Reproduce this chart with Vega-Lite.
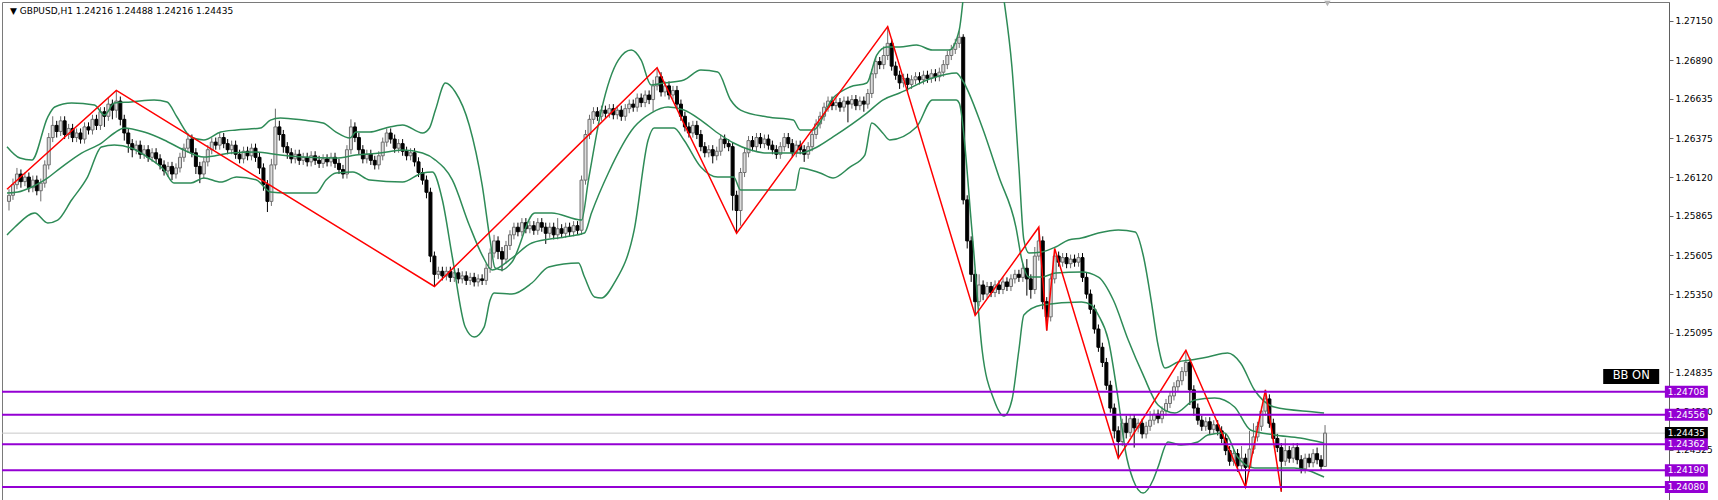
{
"$schema":"https://vega.github.io/schema/vega-lite/v6.json",
"width":1667,"height":498,
"autosize":{"type":"none"},
"padding":{"left":2,"top":2,"right":49,"bottom":0},
"background":"#ffffff",
"config":{"view":{"stroke":"#7a7a7a","strokeWidth":1},"axis":{"grid":false},"font":"DejaVu Sans"},
"datasets":{
"candles":[
{"i":0,"o":1.2596,"h":1.2604,"l":1.2590,"c":1.2600},
{"i":1,"o":1.2600,"h":1.2611,"l":1.2597,"c":1.2607},
{"i":2,"o":1.2607,"h":1.2618,"l":1.2604,"c":1.2614},
{"i":3,"o":1.2614,"h":1.2617,"l":1.2605,"c":1.2609},
{"i":4,"o":1.2609,"h":1.2615,"l":1.2606,"c":1.2612},
{"i":5,"o":1.2612,"h":1.2615,"l":1.2602,"c":1.2605},
{"i":6,"o":1.2605,"h":1.2613,"l":1.2602,"c":1.2610},
{"i":7,"o":1.2610,"h":1.2613,"l":1.2600,"c":1.2603},
{"i":8,"o":1.2603,"h":1.2611,"l":1.2596,"c":1.2608},
{"i":9,"o":1.2608,"h":1.2623,"l":1.2605,"c":1.2620},
{"i":10,"o":1.2620,"h":1.2641,"l":1.2617,"c":1.2638},
{"i":11,"o":1.2638,"h":1.2652,"l":1.2635,"c":1.2646},
{"i":12,"o":1.2646,"h":1.2649,"l":1.2638,"c":1.2642},
{"i":13,"o":1.2642,"h":1.2652,"l":1.2639,"c":1.2649},
{"i":14,"o":1.2649,"h":1.2652,"l":1.2637,"c":1.2640},
{"i":15,"o":1.2640,"h":1.2647,"l":1.2637,"c":1.2644},
{"i":16,"o":1.2644,"h":1.2647,"l":1.2635,"c":1.2638},
{"i":17,"o":1.2638,"h":1.2644,"l":1.2635,"c":1.2641},
{"i":18,"o":1.2641,"h":1.2644,"l":1.2634,"c":1.2637},
{"i":19,"o":1.2637,"h":1.2648,"l":1.2634,"c":1.2645},
{"i":20,"o":1.2645,"h":1.2648,"l":1.2640,"c":1.2643},
{"i":21,"o":1.2643,"h":1.2653,"l":1.2640,"c":1.2650},
{"i":22,"o":1.2650,"h":1.2653,"l":1.2643,"c":1.2646},
{"i":23,"o":1.2646,"h":1.2658,"l":1.2643,"c":1.2655},
{"i":24,"o":1.2655,"h":1.2658,"l":1.2645,"c":1.2652},
{"i":25,"o":1.2652,"h":1.2664,"l":1.2649,"c":1.2660},
{"i":26,"o":1.2660,"h":1.2663,"l":1.2650,"c":1.2656},
{"i":27,"o":1.2656,"h":1.2669,"l":1.2651,"c":1.2662},
{"i":28,"o":1.2662,"h":1.2665,"l":1.2646,"c":1.2650},
{"i":29,"o":1.2650,"h":1.2653,"l":1.2636,"c":1.2641},
{"i":30,"o":1.2641,"h":1.2644,"l":1.2628,"c":1.2634},
{"i":31,"o":1.2634,"h":1.2637,"l":1.2625,"c":1.2630},
{"i":32,"o":1.2630,"h":1.2636,"l":1.2627,"c":1.2633},
{"i":33,"o":1.2633,"h":1.2636,"l":1.2624,"c":1.2627},
{"i":34,"o":1.2627,"h":1.2633,"l":1.2624,"c":1.2630},
{"i":35,"o":1.2630,"h":1.2633,"l":1.2622,"c":1.2625},
{"i":36,"o":1.2625,"h":1.2631,"l":1.2622,"c":1.2628},
{"i":37,"o":1.2628,"h":1.2631,"l":1.2621,"c":1.2624},
{"i":38,"o":1.2624,"h":1.2627,"l":1.2617,"c":1.2620},
{"i":39,"o":1.2620,"h":1.2623,"l":1.2613,"c":1.2616},
{"i":40,"o":1.2616,"h":1.2622,"l":1.2612,"c":1.2619},
{"i":41,"o":1.2619,"h":1.2622,"l":1.2610,"c":1.2614},
{"i":42,"o":1.2614,"h":1.2621,"l":1.2611,"c":1.2618},
{"i":43,"o":1.2618,"h":1.2628,"l":1.2615,"c":1.2625},
{"i":44,"o":1.2625,"h":1.2634,"l":1.2622,"c":1.2631},
{"i":45,"o":1.2631,"h":1.2641,"l":1.2628,"c":1.2637},
{"i":46,"o":1.2637,"h":1.2640,"l":1.2625,"c":1.2628},
{"i":47,"o":1.2628,"h":1.2631,"l":1.2614,"c":1.2619},
{"i":48,"o":1.2619,"h":1.2622,"l":1.2608,"c":1.2614},
{"i":49,"o":1.2614,"h":1.2625,"l":1.2611,"c":1.2622},
{"i":50,"o":1.2622,"h":1.2633,"l":1.2619,"c":1.2630},
{"i":51,"o":1.2630,"h":1.2638,"l":1.2627,"c":1.2635},
{"i":52,"o":1.2635,"h":1.2638,"l":1.2630,"c":1.2633},
{"i":53,"o":1.2633,"h":1.2641,"l":1.2630,"c":1.2638},
{"i":54,"o":1.2638,"h":1.2641,"l":1.2631,"c":1.2634},
{"i":55,"o":1.2634,"h":1.2637,"l":1.2627,"c":1.2630},
{"i":56,"o":1.2630,"h":1.2636,"l":1.2627,"c":1.2633},
{"i":57,"o":1.2633,"h":1.2636,"l":1.2624,"c":1.2627},
{"i":58,"o":1.2627,"h":1.2630,"l":1.2621,"c":1.2624},
{"i":59,"o":1.2624,"h":1.2632,"l":1.2621,"c":1.2629},
{"i":60,"o":1.2629,"h":1.2632,"l":1.2623,"c":1.2626},
{"i":61,"o":1.2626,"h":1.2634,"l":1.2623,"c":1.2631},
{"i":62,"o":1.2631,"h":1.2634,"l":1.2622,"c":1.2625},
{"i":63,"o":1.2625,"h":1.2628,"l":1.2614,"c":1.2618},
{"i":64,"o":1.2618,"h":1.2621,"l":1.2603,"c":1.2607},
{"i":65,"o":1.2607,"h":1.2610,"l":1.2589,"c":1.2596},
{"i":66,"o":1.2596,"h":1.2624,"l":1.2593,"c":1.2620},
{"i":67,"o":1.2620,"h":1.2657,"l":1.2617,"c":1.2645},
{"i":68,"o":1.2645,"h":1.2649,"l":1.2636,"c":1.2640},
{"i":69,"o":1.2640,"h":1.2643,"l":1.2628,"c":1.2632},
{"i":70,"o":1.2632,"h":1.2635,"l":1.2624,"c":1.2628},
{"i":71,"o":1.2628,"h":1.2631,"l":1.2621,"c":1.2624},
{"i":72,"o":1.2624,"h":1.2630,"l":1.2621,"c":1.2627},
{"i":73,"o":1.2627,"h":1.2630,"l":1.2620,"c":1.2623},
{"i":74,"o":1.2623,"h":1.2628,"l":1.2620,"c":1.2625},
{"i":75,"o":1.2625,"h":1.2628,"l":1.2619,"c":1.2622},
{"i":76,"o":1.2622,"h":1.2629,"l":1.2619,"c":1.2626},
{"i":77,"o":1.2626,"h":1.2629,"l":1.2620,"c":1.2623},
{"i":78,"o":1.2623,"h":1.2626,"l":1.2618,"c":1.2621},
{"i":79,"o":1.2621,"h":1.2627,"l":1.2618,"c":1.2624},
{"i":80,"o":1.2624,"h":1.2627,"l":1.2619,"c":1.2622},
{"i":81,"o":1.2622,"h":1.2628,"l":1.2619,"c":1.2625},
{"i":82,"o":1.2625,"h":1.2628,"l":1.2618,"c":1.2621},
{"i":83,"o":1.2621,"h":1.2624,"l":1.2614,"c":1.2617},
{"i":84,"o":1.2617,"h":1.2620,"l":1.2611,"c":1.2614},
{"i":85,"o":1.2614,"h":1.2633,"l":1.2611,"c":1.2630},
{"i":86,"o":1.2630,"h":1.2650,"l":1.2627,"c":1.2645},
{"i":87,"o":1.2645,"h":1.2648,"l":1.2635,"c":1.2638},
{"i":88,"o":1.2638,"h":1.2641,"l":1.2627,"c":1.2630},
{"i":89,"o":1.2630,"h":1.2633,"l":1.2621,"c":1.2624},
{"i":90,"o":1.2624,"h":1.2630,"l":1.2621,"c":1.2627},
{"i":91,"o":1.2627,"h":1.2630,"l":1.2620,"c":1.2623},
{"i":92,"o":1.2623,"h":1.2626,"l":1.2617,"c":1.2620},
{"i":93,"o":1.2620,"h":1.2629,"l":1.2617,"c":1.2626},
{"i":94,"o":1.2626,"h":1.2638,"l":1.2623,"c":1.2635},
{"i":95,"o":1.2635,"h":1.2644,"l":1.2632,"c":1.2641},
{"i":96,"o":1.2641,"h":1.2644,"l":1.2634,"c":1.2637},
{"i":97,"o":1.2637,"h":1.2640,"l":1.2628,"c":1.2631},
{"i":98,"o":1.2631,"h":1.2637,"l":1.2628,"c":1.2634},
{"i":99,"o":1.2634,"h":1.2637,"l":1.2626,"c":1.2629},
{"i":100,"o":1.2629,"h":1.2632,"l":1.2623,"c":1.2626},
{"i":101,"o":1.2626,"h":1.2631,"l":1.2623,"c":1.2628},
{"i":102,"o":1.2628,"h":1.2631,"l":1.2619,"c":1.2622},
{"i":103,"o":1.2622,"h":1.2625,"l":1.2612,"c":1.2615},
{"i":104,"o":1.2615,"h":1.2618,"l":1.2607,"c":1.2610},
{"i":105,"o":1.2610,"h":1.2613,"l":1.2598,"c":1.2602},
{"i":106,"o":1.2602,"h":1.2605,"l":1.2556,"c":1.2560},
{"i":107,"o":1.2560,"h":1.2563,"l":1.2540,"c":1.2548},
{"i":108,"o":1.2548,"h":1.2553,"l":1.2545,"c":1.2550},
{"i":109,"o":1.2550,"h":1.2553,"l":1.2544,"c":1.2547},
{"i":110,"o":1.2547,"h":1.2553,"l":1.2544,"c":1.2550},
{"i":111,"o":1.2550,"h":1.2553,"l":1.2543,"c":1.2546},
{"i":112,"o":1.2546,"h":1.2552,"l":1.2543,"c":1.2549},
{"i":113,"o":1.2549,"h":1.2552,"l":1.2542,"c":1.2545},
{"i":114,"o":1.2545,"h":1.2550,"l":1.2542,"c":1.2547},
{"i":115,"o":1.2547,"h":1.2550,"l":1.2541,"c":1.2544},
{"i":116,"o":1.2544,"h":1.2549,"l":1.2541,"c":1.2546},
{"i":117,"o":1.2546,"h":1.2549,"l":1.2540,"c":1.2543},
{"i":118,"o":1.2543,"h":1.2548,"l":1.2540,"c":1.2545},
{"i":119,"o":1.2545,"h":1.2548,"l":1.2541,"c":1.2544},
{"i":120,"o":1.2544,"h":1.2555,"l":1.2541,"c":1.2552},
{"i":121,"o":1.2552,"h":1.2565,"l":1.2549,"c":1.2562},
{"i":122,"o":1.2562,"h":1.2574,"l":1.2559,"c":1.2570},
{"i":123,"o":1.2570,"h":1.2573,"l":1.2558,"c":1.2563},
{"i":124,"o":1.2563,"h":1.2566,"l":1.2550,"c":1.2558},
{"i":125,"o":1.2558,"h":1.2570,"l":1.2555,"c":1.2567},
{"i":126,"o":1.2567,"h":1.2577,"l":1.2564,"c":1.2574},
{"i":127,"o":1.2574,"h":1.2582,"l":1.2571,"c":1.2579},
{"i":128,"o":1.2579,"h":1.2582,"l":1.2573,"c":1.2576},
{"i":129,"o":1.2576,"h":1.2585,"l":1.2573,"c":1.2582},
{"i":130,"o":1.2582,"h":1.2585,"l":1.2575,"c":1.2578},
{"i":131,"o":1.2578,"h":1.2583,"l":1.2575,"c":1.2580},
{"i":132,"o":1.2580,"h":1.2583,"l":1.2574,"c":1.2577},
{"i":133,"o":1.2577,"h":1.2585,"l":1.2574,"c":1.2582},
{"i":134,"o":1.2582,"h":1.2585,"l":1.2576,"c":1.2579},
{"i":135,"o":1.2579,"h":1.2582,"l":1.2568,"c":1.2575},
{"i":136,"o":1.2575,"h":1.2582,"l":1.2572,"c":1.2579},
{"i":137,"o":1.2579,"h":1.2582,"l":1.2571,"c":1.2574},
{"i":138,"o":1.2574,"h":1.2585,"l":1.2571,"c":1.2578},
{"i":139,"o":1.2578,"h":1.2581,"l":1.2572,"c":1.2575},
{"i":140,"o":1.2575,"h":1.2582,"l":1.2572,"c":1.2579},
{"i":141,"o":1.2579,"h":1.2582,"l":1.2573,"c":1.2576},
{"i":142,"o":1.2576,"h":1.2583,"l":1.2573,"c":1.2580},
{"i":143,"o":1.2580,"h":1.2583,"l":1.2574,"c":1.2577},
{"i":144,"o":1.2577,"h":1.2613,"l":1.2574,"c":1.2610},
{"i":145,"o":1.2610,"h":1.2643,"l":1.2607,"c":1.2640},
{"i":146,"o":1.2640,"h":1.2653,"l":1.2637,"c":1.2650},
{"i":147,"o":1.2650,"h":1.2658,"l":1.2647,"c":1.2655},
{"i":148,"o":1.2655,"h":1.2658,"l":1.2649,"c":1.2652},
{"i":149,"o":1.2652,"h":1.2659,"l":1.2649,"c":1.2656},
{"i":150,"o":1.2656,"h":1.2659,"l":1.2651,"c":1.2654},
{"i":151,"o":1.2654,"h":1.2660,"l":1.2651,"c":1.2657},
{"i":152,"o":1.2657,"h":1.2660,"l":1.2650,"c":1.2653},
{"i":153,"o":1.2653,"h":1.2659,"l":1.2650,"c":1.2656},
{"i":154,"o":1.2656,"h":1.2659,"l":1.2649,"c":1.2652},
{"i":155,"o":1.2652,"h":1.2660,"l":1.2649,"c":1.2657},
{"i":156,"o":1.2657,"h":1.2663,"l":1.2654,"c":1.2660},
{"i":157,"o":1.2660,"h":1.2663,"l":1.2655,"c":1.2658},
{"i":158,"o":1.2658,"h":1.2667,"l":1.2655,"c":1.2664},
{"i":159,"o":1.2664,"h":1.2667,"l":1.2658,"c":1.2661},
{"i":160,"o":1.2661,"h":1.2669,"l":1.2658,"c":1.2666},
{"i":161,"o":1.2666,"h":1.2669,"l":1.2660,"c":1.2663},
{"i":162,"o":1.2663,"h":1.2676,"l":1.2655,"c":1.2672},
{"i":163,"o":1.2672,"h":1.2684,"l":1.2669,"c":1.2678},
{"i":164,"o":1.2678,"h":1.2681,"l":1.2665,"c":1.2668},
{"i":165,"o":1.2668,"h":1.2675,"l":1.2665,"c":1.2672},
{"i":166,"o":1.2672,"h":1.2675,"l":1.2663,"c":1.2666},
{"i":167,"o":1.2666,"h":1.2672,"l":1.2663,"c":1.2669},
{"i":168,"o":1.2669,"h":1.2672,"l":1.2657,"c":1.2660},
{"i":169,"o":1.2660,"h":1.2663,"l":1.2649,"c":1.2652},
{"i":170,"o":1.2652,"h":1.2655,"l":1.2642,"c":1.2645},
{"i":171,"o":1.2645,"h":1.2648,"l":1.2638,"c":1.2641},
{"i":172,"o":1.2641,"h":1.2649,"l":1.2638,"c":1.2646},
{"i":173,"o":1.2646,"h":1.2649,"l":1.2637,"c":1.2640},
{"i":174,"o":1.2640,"h":1.2643,"l":1.2629,"c":1.2632},
{"i":175,"o":1.2632,"h":1.2635,"l":1.2625,"c":1.2628},
{"i":176,"o":1.2628,"h":1.2633,"l":1.2625,"c":1.2630},
{"i":177,"o":1.2630,"h":1.2633,"l":1.2621,"c":1.2626},
{"i":178,"o":1.2626,"h":1.2632,"l":1.2623,"c":1.2629},
{"i":179,"o":1.2629,"h":1.2640,"l":1.2626,"c":1.2637},
{"i":180,"o":1.2637,"h":1.2640,"l":1.2631,"c":1.2634},
{"i":181,"o":1.2634,"h":1.2637,"l":1.2629,"c":1.2632},
{"i":182,"o":1.2632,"h":1.2635,"l":1.2590,"c":1.2600},
{"i":183,"o":1.2600,"h":1.2603,"l":1.2575,"c":1.2590},
{"i":184,"o":1.2590,"h":1.2618,"l":1.2580,"c":1.2615},
{"i":185,"o":1.2615,"h":1.2631,"l":1.2612,"c":1.2628},
{"i":186,"o":1.2628,"h":1.2639,"l":1.2625,"c":1.2636},
{"i":187,"o":1.2636,"h":1.2639,"l":1.2629,"c":1.2632},
{"i":188,"o":1.2632,"h":1.2641,"l":1.2629,"c":1.2638},
{"i":189,"o":1.2638,"h":1.2641,"l":1.2631,"c":1.2634},
{"i":190,"o":1.2634,"h":1.2640,"l":1.2631,"c":1.2637},
{"i":191,"o":1.2637,"h":1.2640,"l":1.2630,"c":1.2633},
{"i":192,"o":1.2633,"h":1.2636,"l":1.2627,"c":1.2630},
{"i":193,"o":1.2630,"h":1.2633,"l":1.2624,"c":1.2627},
{"i":194,"o":1.2627,"h":1.2635,"l":1.2624,"c":1.2632},
{"i":195,"o":1.2632,"h":1.2641,"l":1.2629,"c":1.2638},
{"i":196,"o":1.2638,"h":1.2641,"l":1.2631,"c":1.2634},
{"i":197,"o":1.2634,"h":1.2637,"l":1.2625,"c":1.2628},
{"i":198,"o":1.2628,"h":1.2636,"l":1.2625,"c":1.2633},
{"i":199,"o":1.2633,"h":1.2636,"l":1.2627,"c":1.2630},
{"i":200,"o":1.2630,"h":1.2633,"l":1.2622,"c":1.2627},
{"i":201,"o":1.2627,"h":1.2635,"l":1.2624,"c":1.2632},
{"i":202,"o":1.2632,"h":1.2643,"l":1.2629,"c":1.2640},
{"i":203,"o":1.2640,"h":1.2650,"l":1.2637,"c":1.2647},
{"i":204,"o":1.2647,"h":1.2655,"l":1.2644,"c":1.2652},
{"i":205,"o":1.2652,"h":1.2661,"l":1.2649,"c":1.2658},
{"i":206,"o":1.2658,"h":1.2665,"l":1.2655,"c":1.2662},
{"i":207,"o":1.2662,"h":1.2665,"l":1.2656,"c":1.2659},
{"i":208,"o":1.2659,"h":1.2664,"l":1.2656,"c":1.2661},
{"i":209,"o":1.2661,"h":1.2664,"l":1.2655,"c":1.2658},
{"i":210,"o":1.2658,"h":1.2665,"l":1.2655,"c":1.2662},
{"i":211,"o":1.2662,"h":1.2665,"l":1.2648,"c":1.2660},
{"i":212,"o":1.2660,"h":1.2666,"l":1.2657,"c":1.2663},
{"i":213,"o":1.2663,"h":1.2666,"l":1.2656,"c":1.2659},
{"i":214,"o":1.2659,"h":1.2665,"l":1.2656,"c":1.2662},
{"i":215,"o":1.2662,"h":1.2665,"l":1.2655,"c":1.2660},
{"i":216,"o":1.2660,"h":1.2670,"l":1.2657,"c":1.2667},
{"i":217,"o":1.2667,"h":1.2683,"l":1.2664,"c":1.2680},
{"i":218,"o":1.2680,"h":1.2691,"l":1.2677,"c":1.2688},
{"i":219,"o":1.2688,"h":1.2691,"l":1.2683,"c":1.2686},
{"i":220,"o":1.2686,"h":1.2698,"l":1.2683,"c":1.2692},
{"i":221,"o":1.2692,"h":1.2711,"l":1.2689,"c":1.2700},
{"i":222,"o":1.2700,"h":1.2703,"l":1.2682,"c":1.2685},
{"i":223,"o":1.2685,"h":1.2688,"l":1.2676,"c":1.2679},
{"i":224,"o":1.2679,"h":1.2682,"l":1.2670,"c":1.2674},
{"i":225,"o":1.2674,"h":1.2680,"l":1.2671,"c":1.2677},
{"i":226,"o":1.2677,"h":1.2680,"l":1.2668,"c":1.2673},
{"i":227,"o":1.2673,"h":1.2679,"l":1.2670,"c":1.2676},
{"i":228,"o":1.2676,"h":1.2681,"l":1.2673,"c":1.2678},
{"i":229,"o":1.2678,"h":1.2681,"l":1.2673,"c":1.2676},
{"i":230,"o":1.2676,"h":1.2682,"l":1.2673,"c":1.2679},
{"i":231,"o":1.2679,"h":1.2682,"l":1.2674,"c":1.2677},
{"i":232,"o":1.2677,"h":1.2683,"l":1.2674,"c":1.2680},
{"i":233,"o":1.2680,"h":1.2683,"l":1.2675,"c":1.2678},
{"i":234,"o":1.2678,"h":1.2684,"l":1.2675,"c":1.2681},
{"i":235,"o":1.2681,"h":1.2689,"l":1.2678,"c":1.2686},
{"i":236,"o":1.2686,"h":1.2695,"l":1.2683,"c":1.2692},
{"i":237,"o":1.2692,"h":1.2699,"l":1.2689,"c":1.2696},
{"i":238,"o":1.2696,"h":1.2703,"l":1.2693,"c":1.2700},
{"i":239,"o":1.2700,"h":1.2708,"l":1.2697,"c":1.2704},
{"i":240,"o":1.2704,"h":1.2706,"l":1.2594,"c":1.2597},
{"i":241,"o":1.2597,"h":1.2600,"l":1.2565,"c":1.2570},
{"i":242,"o":1.2570,"h":1.2573,"l":1.2543,"c":1.2548},
{"i":243,"o":1.2548,"h":1.2551,"l":1.2521,"c":1.2530},
{"i":244,"o":1.2530,"h":1.2548,"l":1.2527,"c":1.2541},
{"i":245,"o":1.2541,"h":1.2544,"l":1.2531,"c":1.2535},
{"i":246,"o":1.2535,"h":1.2543,"l":1.2532,"c":1.2540},
{"i":247,"o":1.2540,"h":1.2543,"l":1.2533,"c":1.2536},
{"i":248,"o":1.2536,"h":1.2544,"l":1.2533,"c":1.2541},
{"i":249,"o":1.2541,"h":1.2544,"l":1.2535,"c":1.2538},
{"i":250,"o":1.2538,"h":1.2546,"l":1.2535,"c":1.2543},
{"i":251,"o":1.2543,"h":1.2546,"l":1.2537,"c":1.2540},
{"i":252,"o":1.2540,"h":1.2548,"l":1.2537,"c":1.2545},
{"i":253,"o":1.2545,"h":1.2551,"l":1.2542,"c":1.2548},
{"i":254,"o":1.2548,"h":1.2551,"l":1.2543,"c":1.2546},
{"i":255,"o":1.2546,"h":1.2555,"l":1.2543,"c":1.2552},
{"i":256,"o":1.2552,"h":1.2558,"l":1.2534,"c":1.2545},
{"i":257,"o":1.2545,"h":1.2548,"l":1.2532,"c":1.2538},
{"i":258,"o":1.2538,"h":1.2566,"l":1.2535,"c":1.2560},
{"i":259,"o":1.2560,"h":1.2579,"l":1.2557,"c":1.2570},
{"i":260,"o":1.2570,"h":1.2573,"l":1.2525,"c":1.2530},
{"i":261,"o":1.2530,"h":1.2533,"l":1.2511,"c":1.2520},
{"i":262,"o":1.2520,"h":1.2548,"l":1.2517,"c":1.2545},
{"i":263,"o":1.2545,"h":1.2565,"l":1.2542,"c":1.2560},
{"i":264,"o":1.2560,"h":1.2563,"l":1.2553,"c":1.2556},
{"i":265,"o":1.2556,"h":1.2562,"l":1.2553,"c":1.2559},
{"i":266,"o":1.2559,"h":1.2562,"l":1.2552,"c":1.2555},
{"i":267,"o":1.2555,"h":1.2561,"l":1.2552,"c":1.2558},
{"i":268,"o":1.2558,"h":1.2561,"l":1.2553,"c":1.2556},
{"i":269,"o":1.2556,"h":1.2562,"l":1.2553,"c":1.2559},
{"i":270,"o":1.2559,"h":1.2562,"l":1.2543,"c":1.2546},
{"i":271,"o":1.2546,"h":1.2549,"l":1.2532,"c":1.2535},
{"i":272,"o":1.2535,"h":1.2538,"l":1.2522,"c":1.2525},
{"i":273,"o":1.2525,"h":1.2528,"l":1.2509,"c":1.2512},
{"i":274,"o":1.2512,"h":1.2515,"l":1.2497,"c":1.2500},
{"i":275,"o":1.2500,"h":1.2503,"l":1.2487,"c":1.2490},
{"i":276,"o":1.2490,"h":1.2493,"l":1.2472,"c":1.2475},
{"i":277,"o":1.2475,"h":1.2478,"l":1.2457,"c":1.2460},
{"i":278,"o":1.2460,"h":1.2463,"l":1.2440,"c":1.2445},
{"i":279,"o":1.2445,"h":1.2448,"l":1.2427,"c":1.2438},
{"i":280,"o":1.2438,"h":1.2453,"l":1.2435,"c":1.2450},
{"i":281,"o":1.2450,"h":1.2455,"l":1.2440,"c":1.2444},
{"i":282,"o":1.2444,"h":1.2456,"l":1.2441,"c":1.2453},
{"i":283,"o":1.2453,"h":1.2456,"l":1.2434,"c":1.2447},
{"i":284,"o":1.2447,"h":1.2453,"l":1.2444,"c":1.2450},
{"i":285,"o":1.2450,"h":1.2453,"l":1.2440,"c":1.2443},
{"i":286,"o":1.2443,"h":1.2451,"l":1.2440,"c":1.2448},
{"i":287,"o":1.2448,"h":1.2458,"l":1.2445,"c":1.2452},
{"i":288,"o":1.2452,"h":1.2459,"l":1.2449,"c":1.2456},
{"i":289,"o":1.2456,"h":1.2459,"l":1.2450,"c":1.2453},
{"i":290,"o":1.2453,"h":1.2461,"l":1.2450,"c":1.2458},
{"i":291,"o":1.2458,"h":1.2466,"l":1.2455,"c":1.2463},
{"i":292,"o":1.2463,"h":1.2471,"l":1.2460,"c":1.2468},
{"i":293,"o":1.2468,"h":1.2477,"l":1.2465,"c":1.2474},
{"i":294,"o":1.2474,"h":1.2481,"l":1.2471,"c":1.2478},
{"i":295,"o":1.2478,"h":1.2487,"l":1.2475,"c":1.2484},
{"i":296,"o":1.2484,"h":1.2498,"l":1.2481,"c":1.2490},
{"i":297,"o":1.2490,"h":1.2493,"l":1.2462,"c":1.2472},
{"i":298,"o":1.2472,"h":1.2475,"l":1.2455,"c":1.2460},
{"i":299,"o":1.2460,"h":1.2463,"l":1.2449,"c":1.2452},
{"i":300,"o":1.2452,"h":1.2455,"l":1.2445,"c":1.2448},
{"i":301,"o":1.2448,"h":1.2454,"l":1.2445,"c":1.2451},
{"i":302,"o":1.2451,"h":1.2454,"l":1.2443,"c":1.2446},
{"i":303,"o":1.2446,"h":1.2452,"l":1.2443,"c":1.2449},
{"i":304,"o":1.2449,"h":1.2452,"l":1.2442,"c":1.2445},
{"i":305,"o":1.2445,"h":1.2448,"l":1.2437,"c":1.2440},
{"i":306,"o":1.2440,"h":1.2443,"l":1.2429,"c":1.2432},
{"i":307,"o":1.2432,"h":1.2435,"l":1.2422,"c":1.2425},
{"i":308,"o":1.2425,"h":1.2433,"l":1.2422,"c":1.2430},
{"i":309,"o":1.2430,"h":1.2433,"l":1.2418,"c":1.2422},
{"i":310,"o":1.2422,"h":1.2435,"l":1.2419,"c":1.2427},
{"i":311,"o":1.2427,"h":1.2430,"l":1.2408,"c":1.2421},
{"i":312,"o":1.2421,"h":1.2445,"l":1.2418,"c":1.2433},
{"i":313,"o":1.2433,"h":1.2450,"l":1.2430,"c":1.2441},
{"i":314,"o":1.2441,"h":1.2451,"l":1.2438,"c":1.2448},
{"i":315,"o":1.2448,"h":1.2461,"l":1.2445,"c":1.2458},
{"i":316,"o":1.2458,"h":1.2472,"l":1.2455,"c":1.2466},
{"i":317,"o":1.2466,"h":1.2469,"l":1.2447,"c":1.2450},
{"i":318,"o":1.2450,"h":1.2453,"l":1.2437,"c":1.2440},
{"i":319,"o":1.2440,"h":1.2443,"l":1.2431,"c":1.2434},
{"i":320,"o":1.2434,"h":1.2437,"l":1.2405,"c":1.2425},
{"i":321,"o":1.2425,"h":1.2440,"l":1.2422,"c":1.2432},
{"i":322,"o":1.2432,"h":1.2435,"l":1.2424,"c":1.2427},
{"i":323,"o":1.2427,"h":1.2437,"l":1.2424,"c":1.2434},
{"i":324,"o":1.2434,"h":1.2437,"l":1.2423,"c":1.2426},
{"i":325,"o":1.2426,"h":1.2429,"l":1.2417,"c":1.2420},
{"i":326,"o":1.2420,"h":1.2430,"l":1.2417,"c":1.2427},
{"i":327,"o":1.2427,"h":1.2430,"l":1.2421,"c":1.2424},
{"i":328,"o":1.2424,"h":1.2433,"l":1.2421,"c":1.2430},
{"i":329,"o":1.2430,"h":1.2434,"l":1.2423,"c":1.2426},
{"i":330,"o":1.2426,"h":1.2429,"l":1.2419,"c":1.24216},
{"i":331,"o":1.24216,"h":1.24488,"l":1.24216,"c":1.24435}
],
"bands":[
{"s":"u","i":-0.5,"p":1.2632},{"s":"u","i":2.75,"p":1.26245},{"s":"u","i":5.75,"p":1.26232},{"s":"u","i":9.75,"p":1.26515},{"s":"u","i":11.5,"p":1.26581},{"s":"u","i":15.75,"p":1.26607},{"s":"u","i":21.5,"p":1.26594},{"s":"u","i":24,"p":1.26528},{"s":"u","i":26.5,"p":1.26607},{"s":"u","i":30.75,"p":1.26614},{"s":"u","i":36.5,"p":1.26627},{"s":"u","i":39.75,"p":1.26614},{"s":"u","i":42.25,"p":1.26515},{"s":"u","i":45.75,"p":1.26384},{"s":"u","i":49,"p":1.26364},{"s":"u","i":53.25,"p":1.26416},{"s":"u","i":57.25,"p":1.2643},{"s":"u","i":63.25,"p":1.26443},{"s":"u","i":65.75,"p":1.26495},{"s":"u","i":68.25,"p":1.26509},{"s":"u","i":74,"p":1.26495},{"s":"u","i":79,"p":1.26476},{"s":"u","i":82.25,"p":1.26416},{"s":"u","i":85.75,"p":1.26377},{"s":"u","i":87.25,"p":1.26416},{"s":"u","i":90.75,"p":1.26416},{"s":"u","i":94.75,"p":1.26443},{"s":"u","i":99,"p":1.26463},{"s":"u","i":104,"p":1.2641},{"s":"u","i":105.75,"p":1.26443},{"s":"u","i":107.25,"p":1.26561},{"s":"u","i":109.75,"p":1.26739},{"s":"u","i":112.25,"p":1.2668},{"s":"u","i":115.75,"p":1.26463},{"s":"u","i":119,"p":1.26068},{"s":"u","i":121,"p":1.25706},{"s":"u","i":122.25,"p":1.25522},{"s":"u","i":124,"p":1.25509},{"s":"u","i":126.5,"p":1.25561},{"s":"u","i":132.25,"p":1.25883},{"s":"u","i":136.5,"p":1.25883},{"s":"u","i":144,"p":1.25837},{"s":"u","i":145.75,"p":1.26101},{"s":"u","i":149,"p":1.26561},{"s":"u","i":153.25,"p":1.2689},{"s":"u","i":156.5,"p":1.26956},{"s":"u","i":159,"p":1.2689},{"s":"u","i":161.5,"p":1.26726},{"s":"u","i":164.75,"p":1.26739},{"s":"u","i":169.75,"p":1.26759},{"s":"u","i":174,"p":1.26824},{"s":"u","i":178.25,"p":1.26811},{"s":"u","i":181.5,"p":1.26627},{"s":"u","i":184,"p":1.26561},{"s":"u","i":190.75,"p":1.26515},{"s":"u","i":197.25,"p":1.26495},{"s":"u","i":199,"p":1.2643},{"s":"u","i":202.25,"p":1.2643},{"s":"u","i":207.25,"p":1.2664},{"s":"u","i":211.5,"p":1.26713},{"s":"u","i":215.75,"p":1.26739},{"s":"u","i":218.25,"p":1.26923},{"s":"u","i":220.75,"p":1.26976},{"s":"u","i":224,"p":1.26976},{"s":"u","i":228.25,"p":1.26989},{"s":"u","i":232.25,"p":1.26956},{"s":"u","i":236.5,"p":1.26956},{"s":"u","i":239,"p":1.27088},{"s":"u","i":240.25,"p":1.2735},{"s":"u","i":242.75,"p":1.2768},{"s":"u","i":245.25,"p":1.2781},{"s":"u","i":247.75,"p":1.2768},{"s":"u","i":250.25,"p":1.27285},{"s":"u","i":252.25,"p":1.26844},{"s":"u","i":254,"p":1.26186},{"s":"u","i":255.25,"p":1.25706},{"s":"u","i":256.5,"p":1.2562},{"s":"u","i":259.75,"p":1.25627},{"s":"u","i":263.25,"p":1.2566},{"s":"u","i":266.5,"p":1.25706},{"s":"u","i":269.75,"p":1.25719},{"s":"u","i":274,"p":1.25752},{"s":"u","i":279,"p":1.25772},{"s":"u","i":283.25,"p":1.25758},{"s":"u","i":285.25,"p":1.25607},{"s":"u","i":287.25,"p":1.25311},{"s":"u","i":289,"p":1.25015},{"s":"u","i":290.75,"p":1.24864},{"s":"u","i":294,"p":1.24903},{"s":"u","i":297.25,"p":1.24916},{"s":"u","i":301.5,"p":1.24936},{"s":"u","i":306.5,"p":1.24962},{"s":"u","i":309.75,"p":1.24897},{"s":"u","i":313.25,"p":1.24719},{"s":"u","i":318.25,"p":1.24607},{"s":"u","i":328.25,"p":1.24574},{"s":"u","i":330.75,"p":1.24567},
{"s":"m","i":-0.5,"p":1.26015},{"s":"m","i":2.25,"p":1.26022},{"s":"m","i":5.75,"p":1.26055},{"s":"m","i":9,"p":1.26101},{"s":"m","i":13.25,"p":1.26186},{"s":"m","i":18.25,"p":1.26278},{"s":"m","i":23.25,"p":1.26344},{"s":"m","i":26.5,"p":1.2641},{"s":"m","i":29,"p":1.26443},{"s":"m","i":34,"p":1.26416},{"s":"m","i":39,"p":1.26364},{"s":"m","i":44,"p":1.26298},{"s":"m","i":49,"p":1.26252},{"s":"m","i":55.75,"p":1.26278},{"s":"m","i":62.25,"p":1.26285},{"s":"m","i":68.25,"p":1.26265},{"s":"m","i":74,"p":1.26252},{"s":"m","i":82.25,"p":1.26245},{"s":"m","i":87.25,"p":1.26265},{"s":"m","i":93.25,"p":1.26278},{"s":"m","i":99,"p":1.26298},{"s":"m","i":104,"p":1.26278},{"s":"m","i":107.25,"p":1.26232},{"s":"m","i":111.5,"p":1.26101},{"s":"m","i":115.75,"p":1.25805},{"s":"m","i":119,"p":1.25607},{"s":"m","i":121.5,"p":1.25509},{"s":"m","i":126.5,"p":1.25587},{"s":"m","i":131.5,"p":1.25686},{"s":"m","i":139.75,"p":1.25726},{"s":"m","i":144.75,"p":1.25752},{"s":"m","i":146.5,"p":1.25883},{"s":"m","i":150.75,"p":1.26147},{"s":"m","i":157.25,"p":1.26449},{"s":"m","i":161.5,"p":1.26541},{"s":"m","i":165.75,"p":1.26581},{"s":"m","i":169.75,"p":1.26561},{"s":"m","i":174,"p":1.26495},{"s":"m","i":178.25,"p":1.2641},{"s":"m","i":182.25,"p":1.26344},{"s":"m","i":186.5,"p":1.26298},{"s":"m","i":190.75,"p":1.26278},{"s":"m","i":199,"p":1.26278},{"s":"m","i":203.25,"p":1.26318},{"s":"m","i":207.25,"p":1.26384},{"s":"m","i":215.75,"p":1.26541},{"s":"m","i":219.75,"p":1.26627},{"s":"m","i":224,"p":1.26673},{"s":"m","i":232.25,"p":1.26772},{"s":"m","i":238.25,"p":1.26805},{"s":"m","i":239.75,"p":1.26759},{"s":"m","i":244.75,"p":1.26449},{"s":"m","i":249,"p":1.2612},{"s":"m","i":253.25,"p":1.25791},{"s":"m","i":254.75,"p":1.25574},{"s":"m","i":256.5,"p":1.25462},{"s":"m","i":259.75,"p":1.25462},{"s":"m","i":263.25,"p":1.25489},{"s":"m","i":269.75,"p":1.25495},{"s":"m","i":274,"p":1.25462},{"s":"m","i":277.75,"p":1.25311},{"s":"m","i":281.5,"p":1.25048},{"s":"m","i":285.25,"p":1.24818},{"s":"m","i":289,"p":1.2462},{"s":"m","i":293.25,"p":1.24567},{"s":"m","i":298.25,"p":1.24653},{"s":"m","i":303.25,"p":1.24666},{"s":"m","i":308.25,"p":1.24607},{"s":"m","i":312.25,"p":1.24456},{"s":"m","i":318.25,"p":1.24423},{"s":"m","i":324.75,"p":1.24403},{"s":"m","i":330.75,"p":1.2437},
{"s":"l","i":-0.5,"p":1.25739},{"s":"l","i":1.5,"p":1.25791},{"s":"l","i":6.5,"p":1.25883},{"s":"l","i":9.75,"p":1.25818},{"s":"l","i":12.25,"p":1.25837},{"s":"l","i":15.75,"p":1.25969},{"s":"l","i":19.75,"p":1.2612},{"s":"l","i":23.25,"p":1.26318},{"s":"l","i":26.5,"p":1.26331},{"s":"l","i":30.75,"p":1.26311},{"s":"l","i":34.75,"p":1.26252},{"s":"l","i":39,"p":1.26166},{"s":"l","i":41.5,"p":1.26081},{"s":"l","i":45.75,"p":1.26081},{"s":"l","i":49,"p":1.26114},{"s":"l","i":53.25,"p":1.26087},{"s":"l","i":57.25,"p":1.2612},{"s":"l","i":62.25,"p":1.26101},{"s":"l","i":65.75,"p":1.26022},{"s":"l","i":69.75,"p":1.26015},{"s":"l","i":77.25,"p":1.26015},{"s":"l","i":79.75,"p":1.26101},{"s":"l","i":82.25,"p":1.26147},{"s":"l","i":86.5,"p":1.26153},{"s":"l","i":90.75,"p":1.26101},{"s":"l","i":99,"p":1.26087},{"s":"l","i":104,"p":1.26147},{"s":"l","i":106.5,"p":1.26153},{"s":"l","i":109,"p":1.25969},{"s":"l","i":111.5,"p":1.25594},{"s":"l","i":114.75,"p":1.25133},{"s":"l","i":117,"p":1.25067},{"s":"l","i":119.5,"p":1.25133},{"s":"l","i":121,"p":1.25311},{"s":"l","i":122,"p":1.25357},{"s":"l","i":126.5,"p":1.2535},{"s":"l","i":131.5,"p":1.25423},{"s":"l","i":135.75,"p":1.25528},{"s":"l","i":143.25,"p":1.25554},{"s":"l","i":144.75,"p":1.25462},{"s":"l","i":147.25,"p":1.25331},{"s":"l","i":149,"p":1.25324},{"s":"l","i":152.25,"p":1.25423},{"s":"l","i":157.25,"p":1.25772},{"s":"l","i":160.75,"p":1.26364},{"s":"l","i":162.25,"p":1.26443},{"s":"l","i":167.25,"p":1.26443},{"s":"l","i":169.75,"p":1.26364},{"s":"l","i":174,"p":1.26186},{"s":"l","i":178.25,"p":1.2612},{"s":"l","i":182.25,"p":1.2612},{"s":"l","i":184,"p":1.26035},{"s":"l","i":190.75,"p":1.26035},{"s":"l","i":197.75,"p":1.26035},{"s":"l","i":199,"p":1.2618},{"s":"l","i":204,"p":1.26147},{"s":"l","i":207.25,"p":1.26114},{"s":"l","i":211.5,"p":1.26186},{"s":"l","i":215.25,"p":1.26265},{"s":"l","i":217,"p":1.26476},{"s":"l","i":219.75,"p":1.2641},{"s":"l","i":221.5,"p":1.26364},{"s":"l","i":228.25,"p":1.26449},{"s":"l","i":232.25,"p":1.26627},{"s":"l","i":238.25,"p":1.26627},{"s":"l","i":239,"p":1.26607},{"s":"l","i":242.25,"p":1.25752},{"s":"l","i":244.75,"p":1.24982},{"s":"l","i":247.75,"p":1.24653},{"s":"l","i":250.25,"p":1.24548},{"s":"l","i":252.25,"p":1.24653},{"s":"l","i":254,"p":1.24982},{"s":"l","i":255.25,"p":1.25212},{"s":"l","i":259.75,"p":1.25278},{"s":"l","i":269.75,"p":1.25298},{"s":"l","i":272.25,"p":1.25278},{"s":"l","i":274,"p":1.25212},{"s":"l","i":276.5,"p":1.25048},{"s":"l","i":279,"p":1.24653},{"s":"l","i":280.75,"p":1.24324},{"s":"l","i":282.75,"p":1.24127},{"s":"l","i":285.25,"p":1.24041},{"s":"l","i":287.75,"p":1.24127},{"s":"l","i":289,"p":1.24212},{"s":"l","i":291.5,"p":1.24377},{"s":"l","i":294.75,"p":1.24357},{"s":"l","i":299,"p":1.24377},{"s":"l","i":301.5,"p":1.24423},{"s":"l","i":305.75,"p":1.24436},{"s":"l","i":309,"p":1.24278},{"s":"l","i":313.25,"p":1.24206},{"s":"l","i":323.25,"p":1.24206},{"s":"l","i":330.75,"p":1.24146}
],
"zigzag":[
{"i":-0.5,"p":1.2604},{"i":27,"p":1.2669},{"i":107,"p":1.2540},{"i":163,"p":1.2684},{"i":183,"p":1.2575},{"i":221,"p":1.2711},{"i":243,"p":1.2521},{"i":259,"p":1.2579},{"i":261,"p":1.2511},{"i":263,"p":1.2565},{"i":279,"p":1.2427},{"i":296,"p":1.2498},{"i":311,"p":1.2408},{"i":316,"p":1.2472},{"i":320,"p":1.2405}
],
"levels":[
{"p":1.24708,"lab":"1.24708"},{"p":1.24556,"lab":"1.24556"},{"p":1.24362,"lab":"1.24362"},{"p":1.2419,"lab":"1.24190"},{"p":1.2408,"lab":"1.24080"}
],
"price":[{"p":1.24435,"lab":"1.24435"}],
"notes":[{"head":"▼ GBPUSD,H1  1.24216 1.24488 1.24216 1.24435","bb":"BB ON"}]
},
"layer":[
{"data":{"name":"price"},"mark":{"type":"rule","color":"#c8c8c8","strokeWidth":1},
 "encoding":{"y":{"field":"p","type":"quantitative","scale":{"domain":[1.23995,1.27272],"nice":false,"zero":false},
   "axis":{"orient":"right","title":null,"values":[1.2715,1.2689,1.26635,1.26375,1.2612,1.25865,1.25605,1.2535,1.25095,1.24835,1.2458,1.24325],"format":".5f","grid":false,"domainColor":"#606060","tickColor":"#606060","tickSize":4,"labelFont":"DejaVu Sans","labelFontSize":9,"labelColor":"#000000","labelPadding":2,"labelOverlap":false,"labelBound":false,"labelFlush":false}}}},
{"data":{"name":"candles"},"mark":{"type":"rule","strokeWidth":1},
 "encoding":{"x":{"field":"i","type":"quantitative","scale":{"domain":[-0.5,416.25],"nice":false,"zero":false},"axis":null},
  "y":{"field":"l","type":"quantitative","title":null},"y2":{"field":"h"},
  "color":{"condition":{"test":"datum.c>=datum.o","value":"#6e6e6e"},"value":"#000000"}}},
{"data":{"name":"candles"},"mark":{"type":"bar","size":3,"strokeWidth":1},
 "encoding":{"x":{"field":"i","type":"quantitative"},
  "y":{"field":"o","type":"quantitative","title":null},"y2":{"field":"c"},
  "fill":{"condition":{"test":"datum.c>=datum.o","value":"#dcdcdc"},"value":"#000000"},
  "stroke":{"condition":{"test":"datum.c>=datum.o","value":"#6e6e6e"},"value":"#000000"}}},
{"data":{"name":"bands"},"mark":{"type":"line","interpolate":"monotone","strokeWidth":1.5,"color":"#2e8b57","clip":true},
 "encoding":{"x":{"field":"i","type":"quantitative"},"y":{"field":"p","type":"quantitative","title":null},"detail":{"field":"s"}}},
{"data":{"name":"zigzag"},"mark":{"type":"line","strokeWidth":1.5,"color":"#ff0000","clip":true},
 "encoding":{"x":{"field":"i","type":"quantitative"},"y":{"field":"p","type":"quantitative","title":null}}},
{"data":{"name":"levels"},"mark":{"type":"rule","color":"#9400d3","strokeWidth":2},
 "encoding":{"y":{"field":"p","type":"quantitative","title":null}}},
{"data":{"name":"notes"},"mark":{"type":"text","align":"left","baseline":"middle","font":"DejaVu Sans","fontSize":9,"color":"#000000"},
 "encoding":{"x":{"datum":0.25,"type":"quantitative"},"y":{"datum":1.27216,"type":"quantitative"},"text":{"field":"head"}}},
{"data":{"name":"notes"},"mark":{"type":"point","shape":"triangle-down","filled":true,"size":40,"color":"#b4b4b4","opacity":1},
 "encoding":{"x":{"datum":331.6,"type":"quantitative"},"y":{"datum":1.27262,"type":"quantitative"}}},
{"data":{"name":"notes"},"mark":{"type":"point","shape":"M-1,-0.27H1V0.27H-1Z","filled":true,"size":3136,"color":"#000000","opacity":1},
 "encoding":{"x":{"datum":408,"type":"quantitative"},"y":{"datum":1.24808,"type":"quantitative"}}},
{"data":{"name":"notes"},"mark":{"type":"text","align":"center","baseline":"middle","font":"DejaVu Sans","fontSize":11.5,"color":"#ffffff"},
 "encoding":{"x":{"datum":408,"type":"quantitative"},"y":{"datum":1.24808,"type":"quantitative"},"text":{"field":"bb"}}},
{"data":{"name":"price"},"mark":{"type":"point","shape":"M-1,-0.28H1V0.28H-1Z","filled":true,"size":1849,"color":"#000000","opacity":1,"clip":false},
 "encoding":{"x":{"datum":421.875,"type":"quantitative"},"y":{"field":"p","type":"quantitative"}}},
{"data":{"name":"price"},"mark":{"type":"text","align":"center","baseline":"middle","font":"DejaVu Sans","fontSize":9,"color":"#ffffff","clip":false},
 "encoding":{"x":{"datum":421.875,"type":"quantitative"},"y":{"field":"p","type":"quantitative"},"text":{"field":"lab"}}},
{"data":{"name":"levels"},"mark":{"type":"point","shape":"M-1,-0.28H1V0.28H-1Z","filled":true,"size":1849,"color":"#9400d3","opacity":1,"clip":false},
 "encoding":{"x":{"datum":421.875,"type":"quantitative"},"y":{"field":"p","type":"quantitative"}}},
{"data":{"name":"levels"},"mark":{"type":"text","align":"center","baseline":"middle","font":"DejaVu Sans","fontSize":9,"color":"#ffffff","clip":false},
 "encoding":{"x":{"datum":421.875,"type":"quantitative"},"y":{"field":"p","type":"quantitative"},"text":{"field":"lab"}}}
]
}
